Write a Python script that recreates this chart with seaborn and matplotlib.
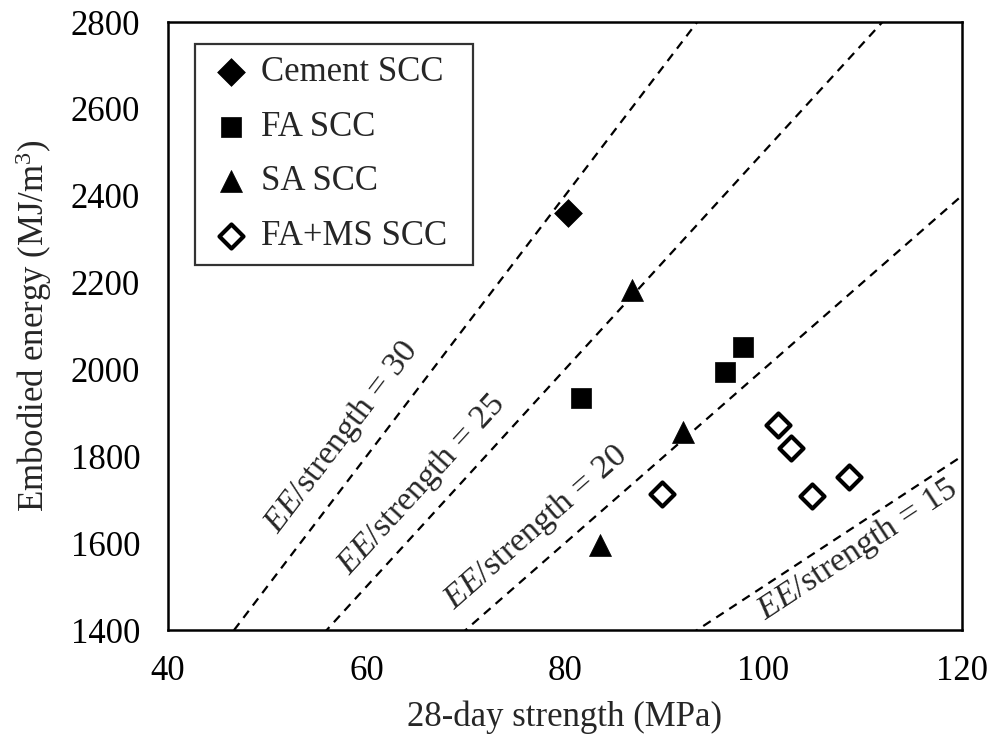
import numpy as np
import pandas as pd
import matplotlib
matplotlib.use("Agg")
import matplotlib.pyplot as plt
import seaborn as sns

sns.set_style("white")
plt.rcParams['font.family'] = ['Liberation Serif', 'DejaVu Serif']
plt.rcParams['mathtext.fontset'] = 'custom'
plt.rcParams['mathtext.rm'] = 'Liberation Serif'
plt.rcParams['mathtext.it'] = 'Liberation Serif:italic'

# data
cement_x = [80.3]
cement_y = [2360]
fa_x = [81.6, 96.1, 98.0]
fa_y = [1934, 1994, 2052]
sa_x = [86.8, 91.9, 83.5]
sa_y = [2182, 1856, 1595]
fams_x = [89.8, 101.5, 102.8, 104.9, 108.6]
fams_y = [1713, 1872, 1819, 1708, 1752]

ratios = [30, 25, 20, 15]
# label centres (x, y) for each ratio line
label_x = [57.5, 65.5, 77.1, 109.5]
label_y = [1844, 1734, 1635, 1584]

groups = ['Cement SCC', 'FA SCC', 'SA SCC', 'FA+MS SCC']

df = pd.concat([
    pd.DataFrame({'strength': cement_x, 'energy': cement_y, 'group': groups[0]}),
    pd.DataFrame({'strength': fa_x, 'energy': fa_y, 'group': groups[1]}),
    pd.DataFrame({'strength': sa_x, 'energy': sa_y, 'group': groups[2]}),
    pd.DataFrame({'strength': fams_x, 'energy': fams_y, 'group': groups[3]}),
], ignore_index=True)

styles = {
    'Cement SCC': dict(marker='D', s=200, color='black', edgecolor='black', linewidth=0.5),
    'FA SCC': dict(marker='s', s=220, color='black', edgecolor='black', linewidth=0.5),
    'SA SCC': dict(marker='^', s=250, color='black', edgecolor='black', linewidth=0.5),
    'FA+MS SCC': dict(marker='D', s=150, color='white', edgecolor='black', linewidth=3),
}

fig = plt.figure(figsize=(9.91, 7.36), dpi=100)
ax = fig.add_axes([0.1695, 0.144, 0.801, 0.826])

xlim = (40, 120)
ylim = (1400, 2800)
ax.set_xlim(*xlim)
ax.set_ylim(*ylim)

xs = np.array(xlim, dtype=float)
for k in ratios:
    sns.lineplot(x=xs, y=k * xs, ax=ax, color='black', lw=1.6,
                 linestyle=(0, (4, 3)), zorder=1)

for g in groups:
    sub = df[df['group'] == g]
    sns.scatterplot(data=sub, x='strength', y='energy', ax=ax, label=g,
                    zorder=3, **styles[g])

fig.canvas.draw()
for k, lx, ly in zip(ratios, label_x, label_y):
    p1 = ax.transData.transform((xlim[0], k * xlim[0]))
    p2 = ax.transData.transform((xlim[1], k * xlim[1]))
    ang = np.degrees(np.arctan2(p2[1] - p1[1], p2[0] - p1[0]))
    ax.text(lx, ly, r'$\mathit{EE}$/strength = %d' % k, rotation=ang,
            rotation_mode='anchor', ha='center', va='center', fontsize=24.5)

ax.set_xticks([40, 60, 80, 100, 120])
ax.set_yticks(np.arange(1400, 2801, 200))
ax.tick_params(axis='both', direction='out', length=7, width=1.8,
               labelsize=25, colors='black')
ax.tick_params(axis='x', pad=11)
ax.tick_params(axis='y', pad=13)
for sp in ax.spines.values():
    sp.set_color('black')
    sp.set_linewidth(1.8)

ax.set_xlabel('28-day strength (MPa)', fontsize=25, labelpad=9)
ax.set_ylabel('Embodied energy (MJ/m$^3$)', fontsize=25, labelpad=12)

leg = ax.legend(loc='upper left', bbox_to_anchor=(0.034, 0.5, 0.350, 0.4638),
                mode='expand', fontsize=25,
                frameon=True, fancybox=False, edgecolor='black',
                handletextpad=0.15, labelspacing=0.62, borderpad=0.35,
                handlelength=1.4, borderaxespad=0)
leg.get_frame().set_linewidth(1.6)

fig.savefig('out.png', dpi=100)
